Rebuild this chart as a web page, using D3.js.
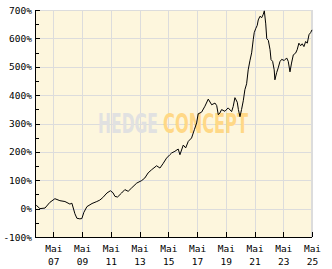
<!DOCTYPE html>
<html>
<head>
<meta charset="utf-8">
<script src="https://cdn.jsdelivr.net/npm/d3@7"></script>
<style>
  html, body { margin: 0; padding: 0; background: #fff; }
  svg { display: block; }
</style>
</head>
<body>
<svg id="chart"></svg>
<script>
// performance in %
const dates = [
  "2006-01-20","2006-03-01","2006-05-25","2006-10-01","2007-02-01","2007-06-10","2007-10-15",
  "2008-02-20","2008-06-25","2008-08-15","2008-10-30","2008-12-20","2009-03-05","2009-04-25",
  "2009-06-15","2009-09-01","2010-01-08","2010-05-10","2010-07-25","2010-10-10","2011-01-22",
  "2011-04-20","2011-06-25","2011-08-15","2011-10-20","2012-01-30","2012-04-22","2012-07-15",
  "2012-10-12","2013-02-18","2013-06-25","2013-09-12","2013-12-05","2014-03-03","2014-07-08",
  "2014-10-01","2014-12-16","2015-03-18","2015-06-10","2015-07-24","2015-10-16","2016-01-08",
  "2016-02-21","2016-05-16","2016-07-16","2016-09-20","2016-12-13","2017-02-21","2017-04-20",
  "2017-05-30","2017-08-25","2017-11-18","2018-02-10","2018-05-08","2018-07-31","2018-09-13",
  "2018-10-23","2018-12-02","2019-01-15","2019-04-09","2019-07-01","2019-09-27","2019-11-06",
  "2019-12-20","2020-02-17","2020-03-17","2020-04-26","2020-06-05","2020-07-19","2020-08-29",
  "2020-10-12","2020-11-21","2021-01-04","2021-02-17","2021-03-29","2021-04-23","2021-05-30",
  "2021-07-09","2021-08-04","2021-09-17","2021-10-31","2021-12-10","2022-01-05","2022-02-10",
  "2022-03-08","2022-04-17","2022-05-31","2022-06-25","2022-08-04","2022-09-13","2022-10-01",
  "2022-11-14","2022-12-24","2023-02-06","2023-03-22","2023-05-26","2023-07-27","2023-09-05",
  "2023-10-19","2023-11-28","2024-01-12","2024-03-10","2024-04-19","2024-06-02","2024-07-16",
  "2024-08-25","2024-10-08","2024-11-21","2025-01-01","2025-02-14","2025-03-30","2025-05-01"
];
const perf = [
  7, 11, 0, 2, 22, 35, 28,
  25, 16, 19, -18, -34, -36, -35,
  -13, 7, 18, 25, 30, 39, 55,
  63, 56, 43, 41, 55, 67, 61,
  73, 90, 99, 108, 126, 137, 151,
  143, 158, 178, 190, 196, 202, 210,
  190, 224, 214, 237, 249, 278, 302,
  334, 340, 361, 386, 366, 372, 363,
  331, 337, 349, 343, 355, 342, 360,
  391, 375, 349, 324, 349, 380, 419,
  440, 489, 521, 549, 595, 620, 634,
  646, 665, 678, 673, 685, 697, 651,
  599, 593, 560, 525, 519, 489, 454,
  479, 496, 518, 526, 522, 531, 519,
  482, 513, 542, 548, 560, 583, 574,
  581, 571, 589, 583, 613, 621, 630
];
const xTickYears = [2007, 2009, 2011, 2013, 2015, 2017, 2019, 2021, 2023, 2025];
const yTicks = [-100, 0, 100, 200, 300, 400, 500, 600, 700];
const yMinorTicks = [-50, 50, 150, 250, 350, 450, 550, 650];

const W = 332, H = 269;
const margin = { top: 10, right: 20, bottom: 32, left: 35 };
const iw = W - margin.left - margin.right;
const ih = H - margin.top - margin.bottom;
const font = "'DejaVu Sans Mono', monospace";

const parse = d3.timeParse("%Y-%m-%d");
const data = dates.map((d, i) => ({ date: parse(d), value: perf[i] }));

const svg = d3.select("#chart").attr("width", W).attr("height", H);
const g = svg.append("g").attr("transform", "translate(" + margin.left + "," + margin.top + ")");

const x = d3.scaleTime()
  .domain([parse("2006-01-20"), parse("2025-05-01")])
  .range([0, iw]);
const y = d3.scaleLinear().domain([-100, 700]).range([ih, 0]);

const xTicks = xTickYears.map(yr => new Date(yr, 4, 1));

// plot background
g.append("rect").attr("width", iw).attr("height", ih).attr("fill", "#fdf6dd");

// grid
const grid = g.append("g").attr("stroke", "#dcdcdc").attr("shape-rendering", "crispEdges");
grid.selectAll(".gy").data(yTicks).enter().append("line")
  .attr("x1", 0).attr("x2", iw)
  .attr("y1", d => Math.round(y(d)) + 0.5).attr("y2", d => Math.round(y(d)) + 0.5);
grid.selectAll(".gx").data(xTicks).enter().append("line")
  .attr("y1", 0).attr("y2", ih)
  .attr("x1", d => Math.round(x(d)) + 0.5).attr("x2", d => Math.round(x(d)) + 0.5);
grid.append("line").attr("x1", iw - 0.5).attr("x2", iw - 0.5).attr("y1", 0).attr("y2", ih);
grid.append("line").attr("x1", 0).attr("x2", iw).attr("y1", 0.5).attr("y2", 0.5);

// watermark
const wm = g.append("g").attr("class", "wm")
  .attr("font-family", "'DejaVu Sans', sans-serif")
  .attr("font-weight", "bold").attr("font-size", 26);
wm.append("text").text("HEDGE")
  .attr("x", 98 - margin.left).attr("y", 133 - margin.top)
  .attr("textLength", 60).attr("lengthAdjust", "spacingAndGlyphs")
  .attr("fill", "#e1e1e1");
wm.append("text").text("CONCEPT")
  .attr("x", 163 - margin.left).attr("y", 133 - margin.top)
  .attr("textLength", 85).attr("lengthAdjust", "spacingAndGlyphs")
  .attr("fill", "#ffd886");

// line
const line = d3.line().x(d => x(d.date)).y(d => y(d.value));
g.append("path").datum(data)
  .attr("fill", "none").attr("stroke", "#000").attr("stroke-width", 1)
  .attr("d", line);

// y axis
const yAxis = g.append("g")
  .call(d3.axisLeft(y).tickValues(yTicks).tickSize(-5).tickPadding(3)
    .tickFormat(d => d + "%"));
yAxis.append("g").selectAll("line").data(yMinorTicks).enter().append("line")
  .attr("x1", 0).attr("x2", 4)
  .attr("y1", d => Math.round(y(d)) + 0.5).attr("y2", d => Math.round(y(d)) + 0.5)
  .attr("stroke", "#000");

// x axis
const xAxis = g.append("g").attr("transform", "translate(0," + ih + ")")
  .call(d3.axisBottom(x).tickValues(xTicks).tickSize(-5).tickFormat(""));
xAxis.selectAll(".tick").append("text")
  .attr("fill", "#000").attr("text-anchor", "middle")
  .selectAll("tspan").data(d => ["Mai", d3.timeFormat("%y")(d)]).enter().append("tspan")
  .attr("x", 0).attr("y", (d, i) => i === 0 ? 15 : 28)
  .text(d => d);

g.selectAll(".domain").attr("stroke", "#000");
g.selectAll(".tick line").attr("stroke", "#000");
g.selectAll("text").filter(function () { return !this.closest(".wm"); })
  .attr("font-family", font).attr("font-size", 9.5).attr("fill", "#000");
g.selectAll(".domain, .tick line").attr("shape-rendering", "crispEdges");
// keep only the axis line itself (no outer ticks)
yAxis.select(".domain").attr("d", "M0.5," + ih + "V0");
xAxis.select(".domain").attr("d", "M0,0.5H" + iw);
</script>
</body>
</html>
